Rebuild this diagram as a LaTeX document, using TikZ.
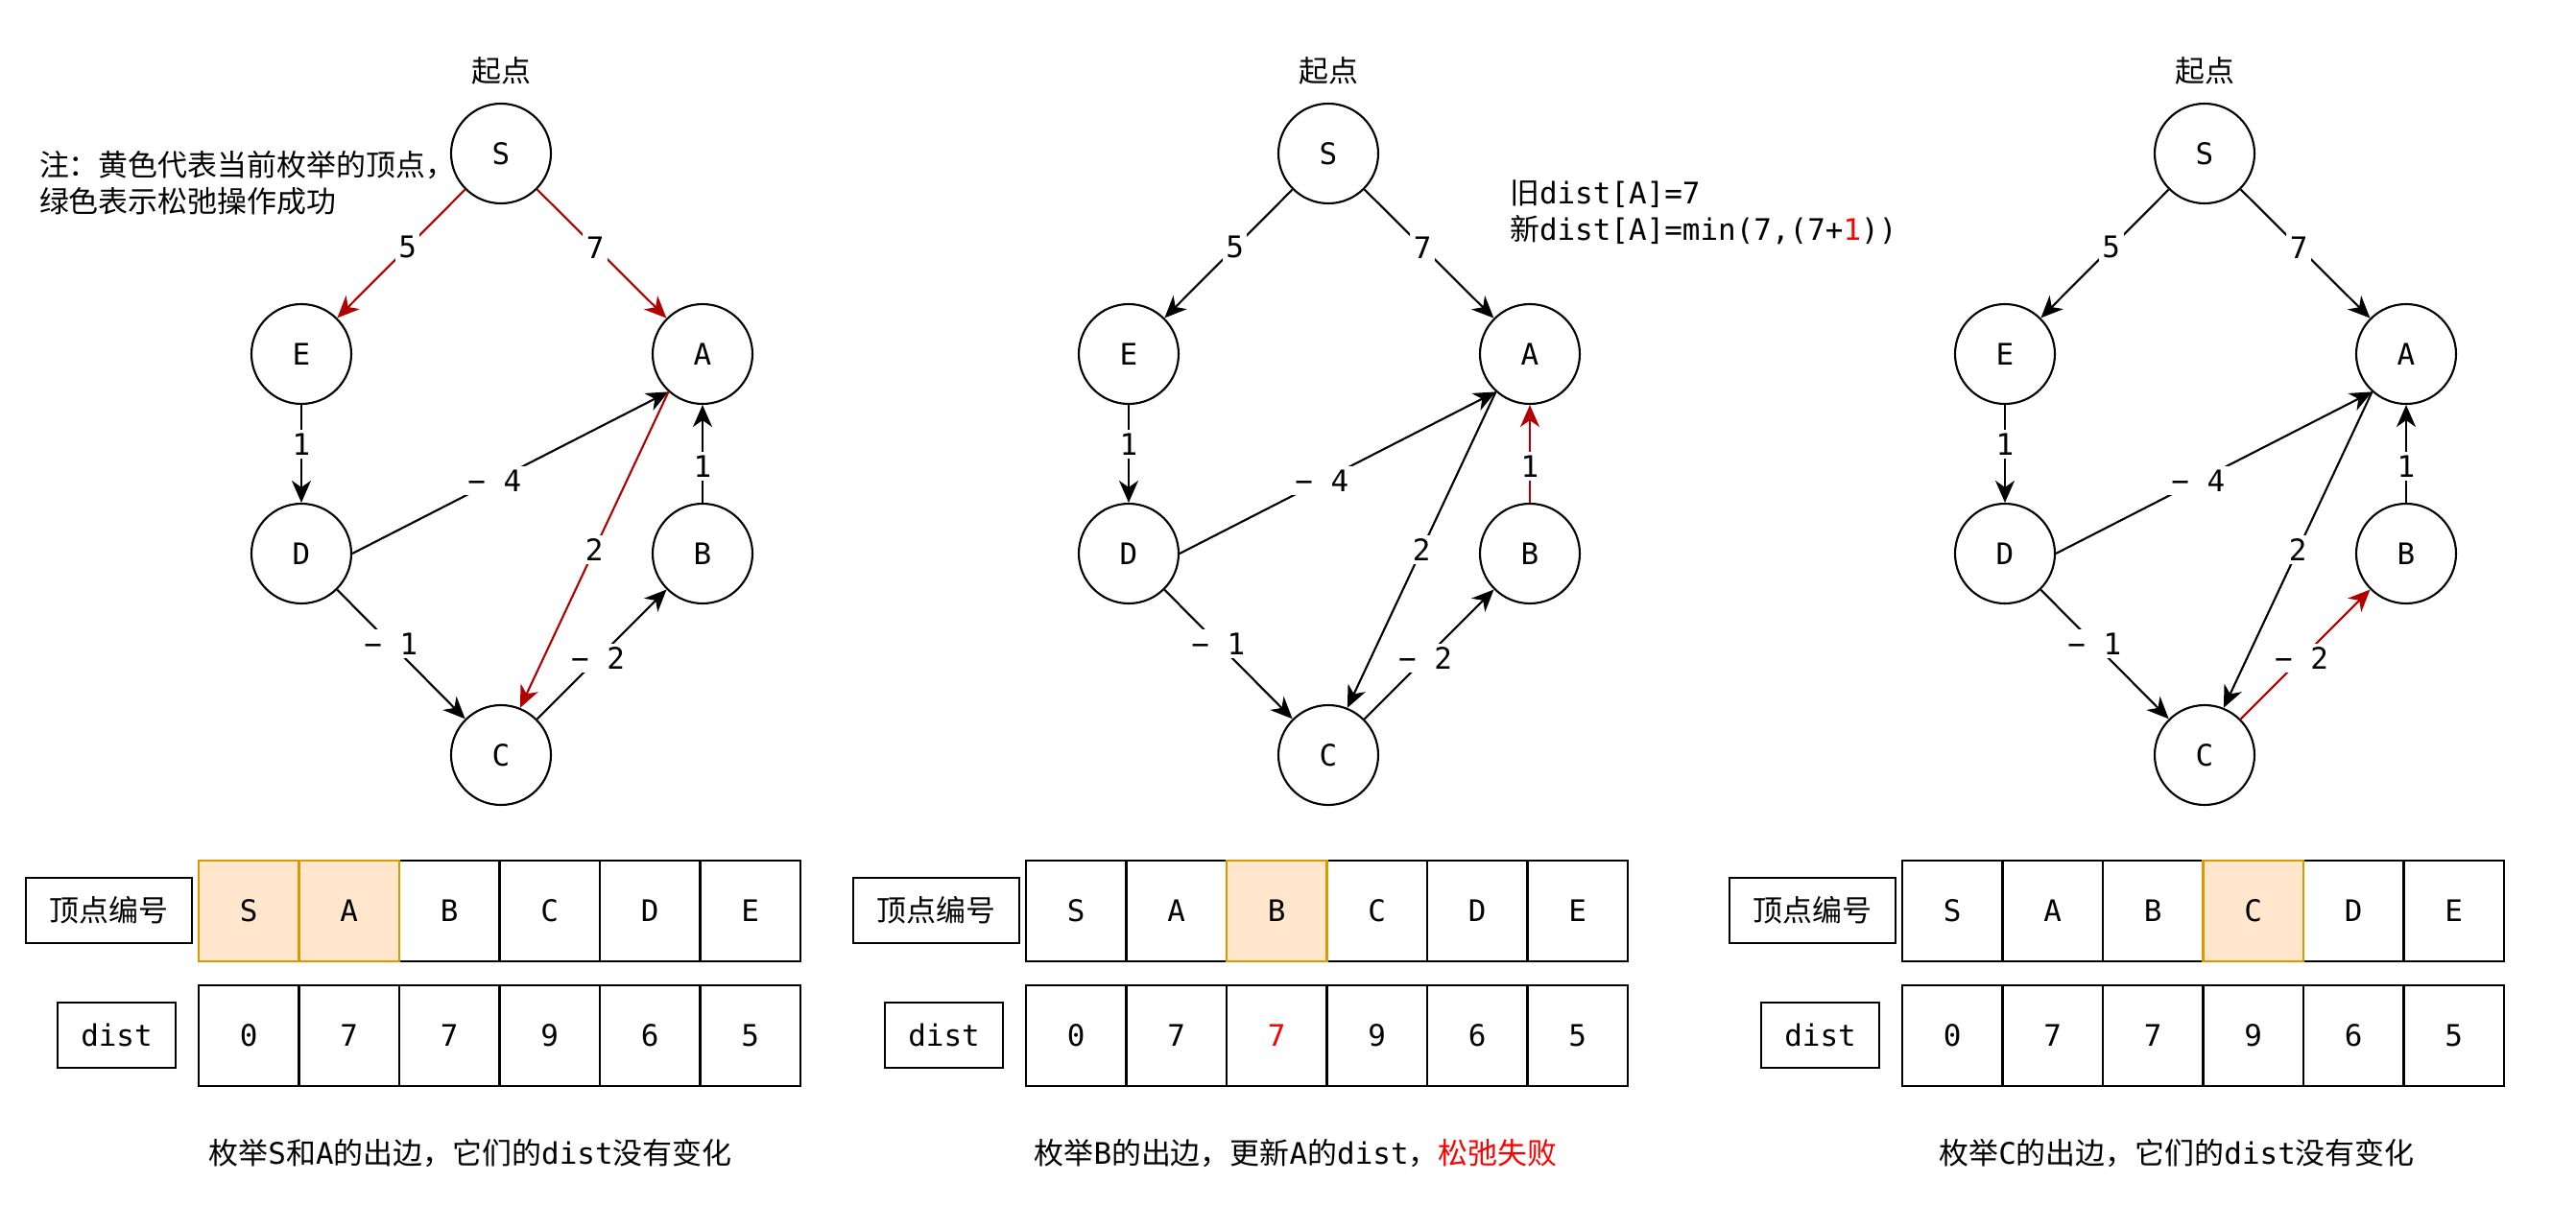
\documentclass[tikz,border=0pt]{standalone}
\usepackage{fontspec}
\setmainfont{DejaVu Sans Mono}
\newfontfamily\cjk{Noto Sans CJK SC}
\usetikzlibrary{arrows.meta}
\definecolor{relaxRed}{HTML}{B20000}
\definecolor{hlFill}{HTML}{FFE6CC}
\definecolor{hlDraw}{HTML}{D79B00}
\newcommand{\zh}[1]{{\cjk #1}}
\def\VtxList{S/5.22/-1.60, E/3.14/-3.69, A/7.32/-3.69, D/3.14/-5.77, B/7.32/-5.77, C/5.22/-7.87}

\begin{document}
\begin{tikzpicture}[
  font=\fontsize{8.8pt}{10.8pt}\selectfont,
  >={Stealth[length=2.3mm, width=2mm, inset=0.7mm]},
  line width=0.6pt,
  vtx/.style={draw, circle, minimum size=1.04cm, inner sep=0pt},
  edge/.style={->},
  hot/.style={->, draw=relaxRed},
  lbl/.style={fill=white, inner sep=1pt},
  cell/.style={draw, minimum width=1.045cm, minimum height=1.05cm, inner sep=0pt, outer sep=0pt},
  hcell/.style={cell, fill=hlFill, draw=hlDraw},
  tag/.style={draw, minimum height=0.68cm, inner sep=0pt},
]
\useasboundingbox (0,0) rectangle (26.84,-12.56);

% ── panel 1: enumerate S and A ───────────────────────────────────────────────
\begin{scope}
  \node (start1) at (5.22,-0.74) {\zh{起点}};
  \foreach \n/\x/\y in \VtxList { \node[vtx] (\n1) at (\x,\y) {\n}; }
  \node[anchor=west, align=left, inner sep=0pt] (note) at (0.40,-1.91)
    {\zh{注：黄色代表当前枚举的顶点，}\\\zh{绿色表示松弛操作成功}};

  \draw[hot]  (S1) -- node[lbl, pos=0.45] {5} (E1);
  \draw[hot]  (S1) -- node[lbl, pos=0.45] {7} (A1);
  \draw[edge] (E1) -- node[lbl, pos=0.4] {1} (D1);
  \draw[edge] (D1.east) -- node[lbl, pos=0.45] {− 4} (A1.228);
  \draw[hot]  (A1.228) -- node[lbl, pos=0.5] {2} (C1.68);
  \draw[edge] (B1) -- node[lbl, pos=0.37] {1} (A1);
  \draw[edge] (D1) -- node[lbl, pos=0.42] {− 1} (C1);
  \draw[edge] (C1) -- node[lbl, pos=0.47] {− 2} (B1);

  \node[tag, minimum width=1.73cm] (idtag1) at (1.135,-9.49) {\zh{顶点编号}};
  \node[tag, minimum width=1.23cm] (dtag1) at (1.215,-10.79) {dist};
  \foreach \n/\i in {B/2, C/3, D/4, E/5} { \node[cell] (id1\n) at ({2.5925+\i*1.045},-9.495) {\n}; }
  \foreach \n/\i in {S/0, A/1} { \node[hcell] (id1\n) at ({2.5925+\i*1.045},-9.495) {\n}; }
  \foreach \v [count=\i from 0] in {0,7,7,9,6,5} { \node[cell] (d1\i) at ({2.5925+\i*1.045},-10.795) {\v}; }

  \node (cap1) at (4.90,-12.02) {\zh{枚举}S\zh{和}A\zh{的出边，它们的}dist\zh{没有变化}};
\end{scope}

% ── panel 2: enumerate B ─────────────────────────────────────────────────────
\begin{scope}[xshift=8.62cm]
  \node (start2) at (5.22,-0.74) {\zh{起点}};
  \foreach \n/\x/\y in \VtxList { \node[vtx] (\n2) at (\x,\y) {\n}; }
  \node[anchor=west, align=left, inner sep=0pt] (formula) at (7.10,-2.215)
    {\zh{旧}dist[A]=7\\\zh{新}dist[A]=min(7,(7+\textcolor{red}{1}))};

  \draw[edge] (S2) -- node[lbl, pos=0.45] {5} (E2);
  \draw[edge] (S2) -- node[lbl, pos=0.45] {7} (A2);
  \draw[edge] (E2) -- node[lbl, pos=0.4] {1} (D2);
  \draw[edge] (D2.east) -- node[lbl, pos=0.45] {− 4} (A2.228);
  \draw[edge] (A2.228) -- node[lbl, pos=0.5] {2} (C2.68);
  \draw[hot]  (B2) -- node[lbl, pos=0.37] {1} (A2);
  \draw[edge] (D2) -- node[lbl, pos=0.42] {− 1} (C2);
  \draw[edge] (C2) -- node[lbl, pos=0.47] {− 2} (B2);

  \node[tag, minimum width=1.73cm] (idtag2) at (1.135,-9.49) {\zh{顶点编号}};
  \node[tag, minimum width=1.23cm] (dtag2) at (1.215,-10.79) {dist};
  \foreach \n/\i in {S/0, A/1, C/3, D/4, E/5} { \node[cell] (id2\n) at ({2.5925+\i*1.045},-9.495) {\n}; }
  \node[hcell] (id2B) at ({2.5925+2*1.045},-9.495) {B};
  \foreach \v [count=\i from 0] in {0,7,\textcolor{red}{7},9,6,5} { \node[cell] (d2\i) at ({2.5925+\i*1.045},-10.795) {\v}; }

  \node (cap2) at (4.88,-12.02)
    {\zh{枚举}B\zh{的出边，更新}A\zh{的}dist\zh{，}\textcolor{red}{\zh{松弛失败}}};
\end{scope}

% ── panel 3: enumerate C ─────────────────────────────────────────────────────
\begin{scope}[xshift=17.75cm]
  \node (start3) at (5.22,-0.74) {\zh{起点}};
  \foreach \n/\x/\y in \VtxList { \node[vtx] (\n3) at (\x,\y) {\n}; }

  \draw[edge] (S3) -- node[lbl, pos=0.45] {5} (E3);
  \draw[edge] (S3) -- node[lbl, pos=0.45] {7} (A3);
  \draw[edge] (E3) -- node[lbl, pos=0.4] {1} (D3);
  \draw[edge] (D3.east) -- node[lbl, pos=0.45] {− 4} (A3.228);
  \draw[edge] (A3.228) -- node[lbl, pos=0.5] {2} (C3.68);
  \draw[edge] (B3) -- node[lbl, pos=0.37] {1} (A3);
  \draw[edge] (D3) -- node[lbl, pos=0.42] {− 1} (C3);
  \draw[hot]  (C3) -- node[lbl, pos=0.47] {− 2} (B3);

  \node[tag, minimum width=1.73cm] (idtag3) at (1.135,-9.49) {\zh{顶点编号}};
  \node[tag, minimum width=1.23cm] (dtag3) at (1.215,-10.79) {dist};
  \foreach \n/\i in {S/0, A/1, B/2, D/4, E/5} { \node[cell] (id3\n) at ({2.5925+\i*1.045},-9.495) {\n}; }
  \node[hcell] (id3C) at ({2.5925+3*1.045},-9.495) {C};
  \foreach \v [count=\i from 0] in {0,7,7,9,6,5} { \node[cell] (d3\i) at ({2.5925+\i*1.045},-10.795) {\v}; }

  \node (cap3) at (4.93,-12.02) {\zh{枚举}C\zh{的出边，它们的}dist\zh{没有变化}};
\end{scope}

\end{tikzpicture}
\end{document}
